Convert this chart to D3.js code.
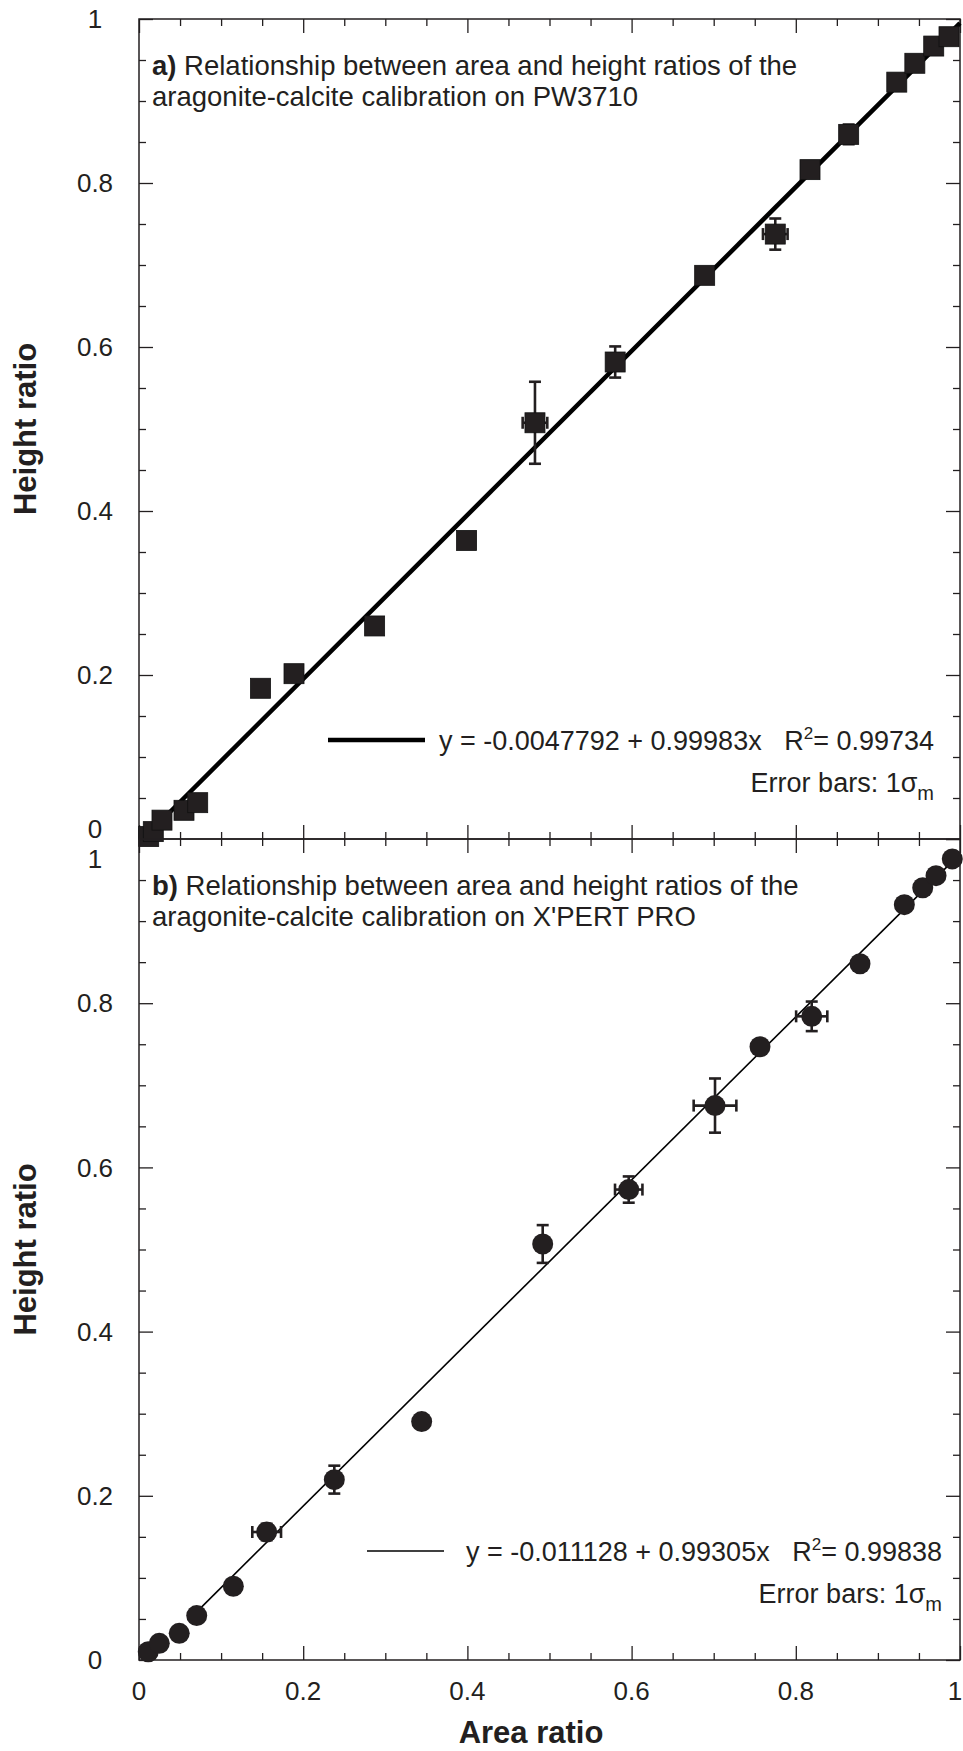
<!DOCTYPE html>
<html><head><meta charset="utf-8">
<script src="https://cdn.jsdelivr.net/npm/d3@7"></script>
<style>
html,body{margin:0;padding:0;background:#fff;}
svg{display:block;font-family:"Liberation Sans",Arial,Helvetica,sans-serif;}
</style></head>
<body>
<svg id="chart" width="963" height="1751"></svg>
<script>
// ---------- data ----------
const areaA   = [0.0118,0.0174,0.028,0.0548,0.0715,0.148,0.1888,0.287,0.399,0.4823,0.580,0.689,0.775,0.8173,0.8644,0.923,0.945,0.968,0.9866];
const heightA = [0.003,0.009,0.023,0.035,0.0443,0.1838,0.2016,0.2598,0.3641,0.5076,0.5817,0.6874,0.7377,0.8163,0.8593,0.923,0.946,0.967,0.9784];
const errYA   = [0,0,0,0,0,0,0,0,0,0.05,0.019,0,0.019,0,0.012,0,0,0,0];
const errXA   = [0,0,0,0,0,0,0,0,0,0.015,0,0,0.015,0,0.008,0,0,0,0];

const areaB   = [0.0113,0.0247,0.049,0.0703,0.1149,0.1555,0.2379,0.3443,0.4917,0.5965,0.7016,0.7564,0.8194,0.8782,0.9322,0.9546,0.9708,0.9906];
const heightB = [0.0101,0.0203,0.0325,0.0541,0.0898,0.1559,0.2197,0.2904,0.5067,0.573,0.6753,0.747,0.784,0.8481,0.92,0.9406,0.9553,0.9757];
const errYB   = [0,0,0,0,0,0.01,0.017,0,0.023,0.016,0.033,0,0.018,0,0,0,0,0];
const errXB   = [0,0,0,0,0,0.0175,0,0,0,0.0167,0.026,0,0.019,0,0,0,0,0];

const fitA = {intercept:-0.0047792, slope:0.99983, r2:"0.99734", from:0.01, to:1.0};
const fitB = {intercept:-0.011128, slope:0.99305, r2:"0.99838", from:0.07, to:1.0};

const majorTicks = [0,0.2,0.4,0.6,0.8,1];
const majorLabels = ["0","0.2","0.4","0.6","0.8","1"];
const minorTicks = d3.range(0,21).map(i=>i*0.05);

const titleA = ["Relationship between area and height ratios of the","aragonite-calcite calibration on PW3710"];
const titleB = ["Relationship between area and height ratios of the","aragonite-calcite calibration on X'PERT PRO"];
const eqA = "y = -0.0047792 + 0.99983x   R";
const eqB = "y = -0.011128 + 0.99305x   R";

// ---------- layout ----------
const INK = "#231f20";
const svg = d3.select("#chart");
svg.append("rect").attr("width",963).attr("height",1751).attr("fill","#fff");

const x = d3.scaleLinear().domain([0,1]).range([139,960]);
const yA = d3.scaleLinear().domain([0,1]).range([839,19]);
const yB = d3.scaleLinear().domain([0,1]).range([1660,839]);

function frame(y){
  const g = svg.append("g");
  const [y0,y1] = y.range();
  const mk = (axisFn, scale, size, vals, tr) => {
    const a = g.append("g").attr("transform",tr)
      .call(axisFn(scale).tickValues(vals).tickSize(size).tickFormat(""));
    a.select(".domain").remove();
    a.selectAll("line").attr("stroke",INK).attr("stroke-width",1.3);
  };
  const minors = minorTicks.filter(v=>!majorTicks.some(m=>Math.abs(m-v)<1e-9));
  mk(d3.axisBottom, x, -7, minors, `translate(0,${y0})`);
  mk(d3.axisBottom, x, -14, majorTicks, `translate(0,${y0})`);
  mk(d3.axisTop, x, -7, minors, `translate(0,${y1})`);
  mk(d3.axisTop, x, -14, majorTicks, `translate(0,${y1})`);
  mk(d3.axisLeft, y, -7, minors, `translate(${x(0)},0)`);
  mk(d3.axisLeft, y, -14, majorTicks, `translate(${x(0)},0)`);
  mk(d3.axisRight, y, -7, minors, `translate(${x(1)},0)`);
  mk(d3.axisRight, y, -14, majorTicks, `translate(${x(1)},0)`);
  g.append("rect").attr("x",x(0)).attr("y",y1).attr("width",x(1)-x(0)).attr("height",y0-y1)
    .attr("fill","none").attr("stroke",INK).attr("stroke-width",1.5);
  return g;
}

function yLabels(y, shiftBottom, shiftTop){
  majorTicks.forEach((v,i)=>{
    let yy = y(v);
    if (v===0 && shiftBottom) yy -= 10;
    if (v===1 && shiftTop) yy += 20;
    svg.append("text").attr("x",95).attr("y",yy).attr("dy","0.35em")
      .attr("text-anchor","middle").attr("font-size",26).attr("fill",INK).text(majorLabels[i]);
  });
}

function panel(y, xs, ys, ex, ey, fit, marker, lineW, title, letter, eq, eqY, eqRight, legX, errY){
  frame(y);
  svg.append("line")
    .attr("x1",x(fit.from)).attr("y1",y(fit.intercept+fit.slope*fit.from))
    .attr("x2",x(fit.to)).attr("y2",y(fit.intercept+fit.slope*fit.to))
    .attr("stroke","#000").attr("stroke-width",lineW);
  const eb = svg.append("g").attr("stroke",INK).attr("stroke-width",2.6).attr("fill","none");
  xs.forEach((xv,i)=>{
    if (ey[i]>0){
      const cx=x(xv), t=y(ys[i]+ey[i]), b=y(ys[i]-ey[i]);
      eb.append("line").attr("x1",cx).attr("x2",cx).attr("y1",t).attr("y2",b);
      eb.append("line").attr("x1",cx-6).attr("x2",cx+6).attr("y1",t).attr("y2",t);
      eb.append("line").attr("x1",cx-6).attr("x2",cx+6).attr("y1",b).attr("y2",b);
    }
    if (ex[i]>0){
      const cy=y(ys[i]), l=x(xv-ex[i]), r=x(xv+ex[i]);
      eb.append("line").attr("x1",l).attr("x2",r).attr("y1",cy).attr("y2",cy);
      eb.append("line").attr("x1",l).attr("x2",l).attr("y1",cy-6).attr("y2",cy+6);
      eb.append("line").attr("x1",r).attr("x2",r).attr("y1",cy-6).attr("y2",cy+6);
    }
  });
  const mg = svg.append("g");
  xs.forEach((xv,i)=>{
    if (marker==="square"){
      mg.append("rect").attr("x",x(xv)-10).attr("y",y(ys[i])-10).attr("width",20).attr("height",20)
        .attr("fill",INK).attr("stroke","#111").attr("stroke-width",0.8);
    } else {
      mg.append("circle").attr("cx",x(xv)).attr("cy",y(ys[i])).attr("r",10.5).attr("fill",INK);
    }
  });
  const t1 = svg.append("text").attr("x",152).attr("y",y(1)+56).attr("font-size",27.5).attr("fill",INK)
    .style("white-space","pre");
  t1.append("tspan").attr("font-weight","bold").text(letter+")");
  t1.append("tspan").text(" "+title[0]);
  svg.append("text").attr("x",152).attr("y",y(1)+87).attr("font-size",27.5).attr("fill",INK).text(title[1]);
  svg.append("line").attr("x1",legX[0]).attr("x2",legX[1]).attr("y1",eqY).attr("y2",eqY)
    .attr("stroke","#000").attr("stroke-width",lineW);
  const et = svg.append("text").attr("x",eqRight).attr("y",eqY+9.5).attr("text-anchor","end")
    .attr("font-size",27).attr("fill",INK).style("white-space","pre");
  et.append("tspan").text(eq);
  et.append("tspan").attr("dy",-11).attr("font-size",17).text("2");
  et.append("tspan").attr("dy",11).text("= "+fit.r2);
  const er = svg.append("text").attr("x",eqRight).attr("y",errY+9.5).attr("text-anchor","end")
    .attr("font-size",27).attr("fill",INK);
  er.append("tspan").text("Error bars: 1σ");
  er.append("tspan").attr("dy",8).attr("font-size",20).text("m");
}

panel(yA, areaA, heightA, errXA, errYA, fitA, "square", 4.5, titleA, "a", eqA, 740, 934, [328,425], 782);
panel(yB, areaB, heightB, errXB, errYB, fitB, "circle", 1.6, titleB, "b", eqB, 1551, 942, [367,444], 1593);

yLabels(yA, true, false);
yLabels(yB, false, true);

majorTicks.forEach((v,i)=>{
  svg.append("text").attr("x",v===1 ? x(v)-5 : x(v)).attr("y",1691).attr("dy","0.35em").attr("text-anchor","middle")
    .attr("font-size",26).attr("fill",INK).text(majorLabels[i]);
});

svg.append("text").attr("x",531).attr("y",1743).attr("text-anchor","middle")
  .attr("font-size",31).attr("font-weight","bold").attr("fill",INK).text("Area ratio");
[yA,yB].forEach(y=>{
  const cy=(y(0)+y(1))/2;
  svg.append("text").attr("transform",`translate(36,${cy}) rotate(-90)`).attr("text-anchor","middle")
    .attr("font-size",31).attr("font-weight","bold").attr("fill",INK).text("Height ratio");
});
</script>
</body></html>
